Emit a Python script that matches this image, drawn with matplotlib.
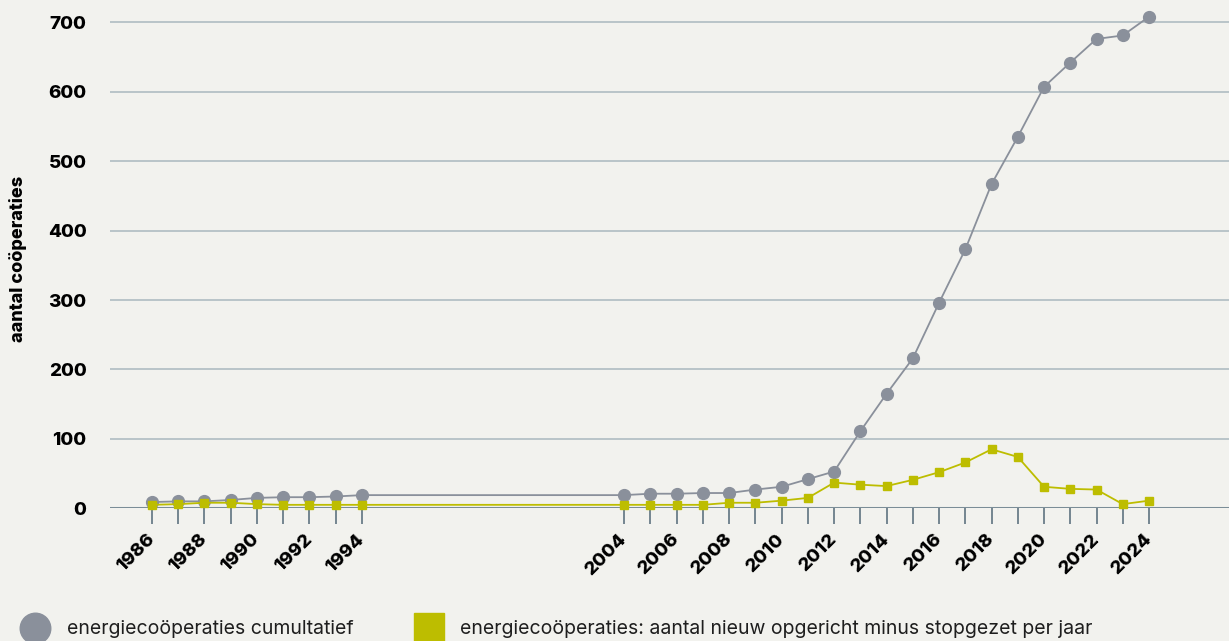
import matplotlib.pyplot as plt
from matplotlib.lines import Line2D

plt.rcParams['font.family'] = ['Inter', 'DejaVu Sans']

# jaren met data (1995-2003 ontbreekt)
jaren = [1986, 1987, 1988, 1989, 1990, 1991, 1992, 1993, 1994,
         2004, 2005, 2006, 2007, 2008, 2009, 2010, 2011, 2012, 2013, 2014,
         2015, 2016, 2017, 2018, 2019, 2020, 2021, 2022, 2023, 2024]
cumulatief = [9, 10, 10, 12, 15, 16, 16, 17, 19,
              19, 21, 21, 22, 22, 27, 31, 42, 53, 111, 165,
              216, 296, 373, 467, 535, 607, 642, 676, 681, 708]
netto_per_jaar = [5, 6, 8, 8, 6, 5, 5, 5, 5,
                  5, 5, 5, 5, 8, 8, 11, 15, 37, 34, 32,
                  41, 52, 66, 85, 74, 31, 28, 27, 6, 11]
y_ticks = [0, 100, 200, 300, 400, 500, 600, 700]

bg = '#f2f2ee'
grijs = '#8a909b'
geel = '#bdbd00'

fig = plt.figure(figsize=(12.29, 6.41), dpi=100, facecolor=bg)
ax = fig.add_axes([110 / 1229, 1 - 508.3 / 641, 1 - 110 / 1229, (508.3 - 8.4) / 641])
ax.set_facecolor(bg)

ax.plot(jaren, cumulatief, color=grijs, lw=1.3, marker='o', ms=8.5,
        mec=grijs, mfc=grijs, clip_on=False, zorder=3)
ax.plot(jaren, netto_per_jaar, color=geel, lw=1.3, marker='s', ms=6.3,
        mec=geel, mfc=geel, clip_on=False, zorder=4)

ax.set_xlim(1984.4, 2027.05)
ax.set_ylim(0, 720)

ax.set_yticks(y_ticks)
ax.set_yticklabels([str(v) for v in y_ticks], fontsize=13.5, fontweight='heavy')
ax.tick_params(axis='y', length=0, pad=17)
for v in y_ticks[1:]:
    ax.axhline(v, color='#a9b8bf', lw=1.1, zorder=1)
ax.axhline(0, color='#7b8d97', lw=2.2, zorder=2)

ax.set_xticks(jaren)
ax.set_xticklabels([str(j) if j % 2 == 0 else '' for j in jaren],
                   rotation=45, ha='right', va='center', rotation_mode='anchor',
                   fontsize=13.5, fontweight='heavy')
ax.tick_params(axis='x', direction='out', length=11.5, width=1.2,
               color='#5f7380', pad=9)

for s in ax.spines.values():
    s.set_visible(False)

ax.set_ylabel('aantal coöperaties', fontsize=13, fontweight='heavy')
ax.yaxis.set_label_coords(-(110 - 18) / 1119, (508.3 - 259) / 500)
ax.yaxis.label.set_va('center')

# legenda onderaan
fig.add_artist(Line2D([34.5 / 1229], [1 - 628 / 641], marker='o', ms=22,
                      color=grijs, lw=0, transform=fig.transFigure))
fig.text(67 / 1229, 1 - 629 / 641, 'energiecoöperaties cumultatief',
         fontsize=14, va='center', ha='left', color='#1e1e1e')
fig.add_artist(Line2D([428.5 / 1229], [1 - 628 / 641], marker='s', ms=22,
                      color=geel, lw=0, transform=fig.transFigure))
fig.text(460 / 1229, 1 - 629 / 641,
         'energiecoöperaties: aantal nieuw opgericht minus stopgezet per jaar',
         fontsize=14, va='center', ha='left', color='#1e1e1e')

fig.savefig('out.png', dpi=100, facecolor=bg)
